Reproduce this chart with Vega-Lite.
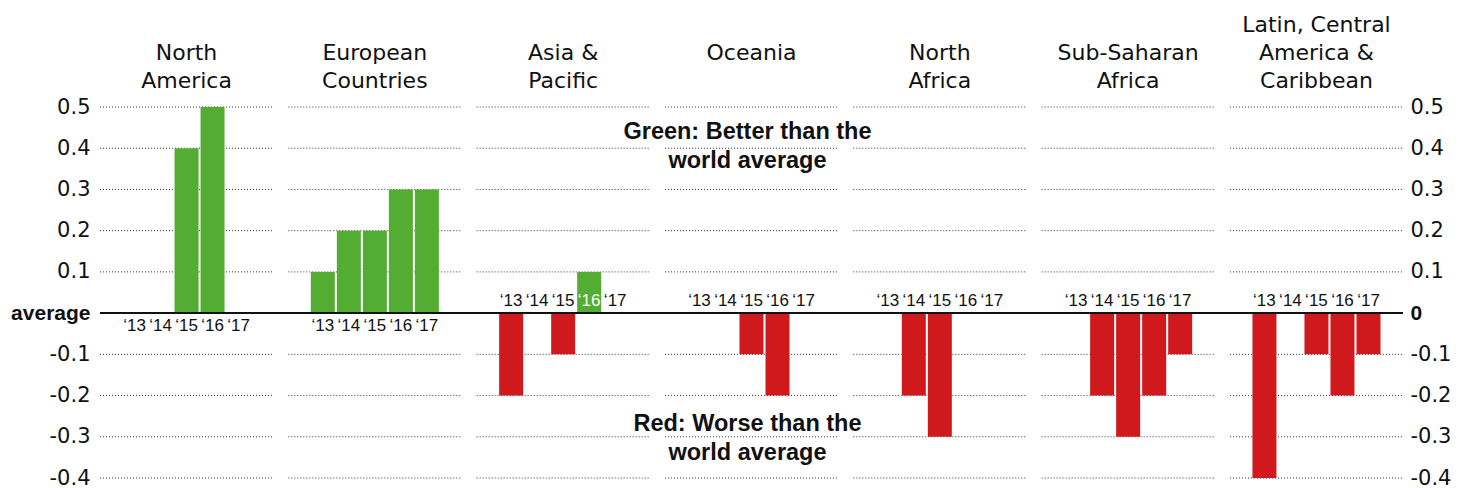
{
  "$schema": "https://vega.github.io/schema/vega-lite/v6.json",
  "width": 1303,
  "height": 371,
  "autosize": "none",
  "padding": {"left": 100, "top": 107, "right": 58, "bottom": 10},
  "background": "white",
  "config": {"view": {"stroke": null}, "font": "Liberation Sans"},
  "datasets": {
    "bars": [
      {"region": "North America", "year": "‘13", "value": 0},
      {"region": "North America", "year": "‘14", "value": 0},
      {"region": "North America", "year": "‘15", "value": 0.4},
      {"region": "North America", "year": "‘16", "value": 0.5},
      {"region": "North America", "year": "‘17", "value": 0},
      {"region": "European Countries", "year": "‘13", "value": 0.1},
      {"region": "European Countries", "year": "‘14", "value": 0.2},
      {"region": "European Countries", "year": "‘15", "value": 0.2},
      {"region": "European Countries", "year": "‘16", "value": 0.3},
      {"region": "European Countries", "year": "‘17", "value": 0.3},
      {"region": "Asia & Pacific", "year": "‘13", "value": -0.2},
      {"region": "Asia & Pacific", "year": "‘14", "value": 0},
      {"region": "Asia & Pacific", "year": "‘15", "value": -0.1},
      {"region": "Asia & Pacific", "year": "‘16", "value": 0.1},
      {"region": "Asia & Pacific", "year": "‘17", "value": 0},
      {"region": "Oceania", "year": "‘13", "value": 0},
      {"region": "Oceania", "year": "‘14", "value": 0},
      {"region": "Oceania", "year": "‘15", "value": -0.1},
      {"region": "Oceania", "year": "‘16", "value": -0.2},
      {"region": "Oceania", "year": "‘17", "value": 0},
      {"region": "North Africa", "year": "‘13", "value": 0},
      {"region": "North Africa", "year": "‘14", "value": -0.2},
      {"region": "North Africa", "year": "‘15", "value": -0.3},
      {"region": "North Africa", "year": "‘16", "value": 0},
      {"region": "North Africa", "year": "‘17", "value": 0},
      {"region": "Sub-Saharan Africa", "year": "‘13", "value": 0},
      {"region": "Sub-Saharan Africa", "year": "‘14", "value": -0.2},
      {"region": "Sub-Saharan Africa", "year": "‘15", "value": -0.3},
      {"region": "Sub-Saharan Africa", "year": "‘16", "value": -0.2},
      {"region": "Sub-Saharan Africa", "year": "‘17", "value": -0.1},
      {"region": "Latin, Central America & Caribbean", "year": "‘13", "value": -0.4},
      {"region": "Latin, Central America & Caribbean", "year": "‘14", "value": 0},
      {"region": "Latin, Central America & Caribbean", "year": "‘15", "value": -0.1},
      {"region": "Latin, Central America & Caribbean", "year": "‘16", "value": -0.2},
      {"region": "Latin, Central America & Caribbean", "year": "‘17", "value": -0.1}
    ],
    "grid": [
      {"region": "North America", "ticks": [0.5, 0.4, 0.3, 0.2, 0.1, -0.1, -0.2, -0.3, -0.4]},
      {"region": "European Countries", "ticks": [0.5, 0.4, 0.3, 0.2, 0.1, -0.1, -0.2, -0.3, -0.4]},
      {"region": "Asia & Pacific", "ticks": [0.5, 0.4, 0.3, 0.2, 0.1, -0.1, -0.2, -0.3, -0.4]},
      {"region": "Oceania", "ticks": [0.5, 0.4, 0.3, 0.2, 0.1, -0.1, -0.2, -0.3, -0.4]},
      {"region": "North Africa", "ticks": [0.5, 0.4, 0.3, 0.2, 0.1, -0.1, -0.2, -0.3, -0.4]},
      {"region": "Sub-Saharan Africa", "ticks": [0.5, 0.4, 0.3, 0.2, 0.1, -0.1, -0.2, -0.3, -0.4]},
      {"region": "Latin, Central America & Caribbean", "ticks": [0.5, 0.4, 0.3, 0.2, 0.1, -0.1, -0.2, -0.3, -0.4]}
    ],
    "notes": [
      {"region": "Oceania", "v": 0.44, "t": "Green: Better than the\nworld average"},
      {"region": "Oceania", "v": -0.27, "t": "Red: Worse than the\nworld average"}
    ]
  },
  "layer": [
    {
      "data": {"name": "grid"},
      "transform": [{"flatten": ["ticks"]}],
      "mark": {"type": "rule", "stroke": "#333", "strokeWidth": 1, "strokeDash": [1, 2]},
      "encoding": {
        "x": {
          "field": "region", "type": "nominal", "bandPosition": 0,
          "scale": {
            "domain": ["North America", "European Countries", "Asia & Pacific", "Oceania", "North Africa", "Sub-Saharan Africa", "Latin, Central America & Caribbean"],
            "paddingInner": 0.081, "paddingOuter": 0
          },
          "axis": {
            "orient": "top", "title": null, "domain": false, "ticks": false,
            "labelAngle": 0, "labelFont": "DejaVu Sans", "labelFontSize": 22, "labelColor": "#111", "labelPadding": 71,
            "labelLineHeight": 28, "labelBaseline": "bottom",
            "labelExpr": "datum.label == 'Latin, Central America & Caribbean' ? ['Latin, Central', 'America &', 'Caribbean'] : datum.label == 'Oceania' ? ['', '', 'Oceania'] : datum.label == 'Asia & Pacific' ? ['', 'Asia &', 'Pacific'] : split(' ' + datum.label, ' ')"
          }
        },
        "x2": {"field": "region", "bandPosition": 1},
        "y": {
          "field": "ticks", "type": "quantitative",
          "scale": {"domain": [-0.4, 0.5], "nice": false, "zero": false},
          "axis": {
            "orient": "left", "title": null, "domain": false, "ticks": false, "grid": false,
            "values": [0.5, 0.4, 0.3, 0.2, 0.1, 0, -0.1, -0.2, -0.3, -0.4],
            "labelFontSize": 21, "labelColor": "#111", "labelPadding": 10,
            "labelFont": {"condition": {"test": "datum.value == 0", "value": "Liberation Sans"}, "value": "DejaVu Sans"},
            "labelFontWeight": {"condition": {"test": "datum.value == 0", "value": "bold"}, "value": "normal"},
            "labelExpr": "datum.value == 0 ? 'average' : replace(format(datum.value, '.1f'), '−', '-')"
          }
        }
      }
    },
    {
      "data": {"name": "bars"},
      "mark": {"type": "bar"},
      "encoding": {
        "x": {"field": "region", "type": "nominal"},
        "xOffset": {"field": "year", "type": "nominal", "scale": {"paddingInner": 0.077, "paddingOuter": 0.865}},
        "y": {
          "field": "value", "type": "quantitative",
          "axis": {
            "orient": "right", "title": null, "domain": false, "ticks": false, "grid": false,
            "values": [0.5, 0.4, 0.3, 0.2, 0.1, 0, -0.1, -0.2, -0.3, -0.4],
            "labelFontSize": 21, "labelColor": "#111", "labelPadding": 7,
            "labelFont": {"condition": {"test": "datum.value == 0", "value": "Liberation Sans"}, "value": "DejaVu Sans"},
            "labelFontWeight": {"condition": {"test": "datum.value == 0", "value": "bold"}, "value": "normal"},
            "labelExpr": "datum.value == 0 ? '0' : replace(format(datum.value, '.1f'), '−', '-')"
          }
        },
        "color": {"condition": {"test": "datum.value > 0", "value": "#53ad33"}, "value": "#cf191d"}
      }
    },
    {
      "data": {"values": [{}]},
      "mark": {"type": "rule", "stroke": "#111", "strokeWidth": 2},
      "encoding": {"y": {"datum": 0, "axis": null}}
    },
    {
      "data": {"name": "bars"},
      "transform": [{"filter": "datum.region == 'North America' || datum.region == 'European Countries'"}],
      "mark": {"type": "text", "baseline": "top", "dy": 5, "fontSize": 17, "fill": "#111"},
      "encoding": {
        "x": {"field": "region", "type": "nominal"},
        "xOffset": {"field": "year", "type": "nominal"},
        "y": {"datum": 0, "axis": null},
        "text": {"field": "year"}
      }
    },
    {
      "data": {"name": "bars"},
      "transform": [{"filter": "datum.region != 'North America' && datum.region != 'European Countries'"}],
      "mark": {"type": "text", "baseline": "bottom", "dy": -3, "fontSize": 17},
      "encoding": {
        "x": {"field": "region", "type": "nominal"},
        "xOffset": {"field": "year", "type": "nominal"},
        "y": {"datum": 0, "axis": null},
        "text": {"field": "year"},
        "color": {"condition": {"test": "datum.value > 0", "value": "white"}, "value": "#111"}
      }
    },
    {
      "data": {"name": "notes"},
      "mark": {"type": "text", "fontSize": 23.5, "fontWeight": "bold", "lineBreak": "\n", "lineHeight": 29, "baseline": "middle", "dx": -4, "fill": "#111"},
      "encoding": {
        "x": {"field": "region", "type": "nominal"},
        "y": {"field": "v", "type": "quantitative", "axis": null},
        "text": {"field": "t"}
      }
    }
  ],
  "resolve": {"axis": {"y": "independent"}}
}
